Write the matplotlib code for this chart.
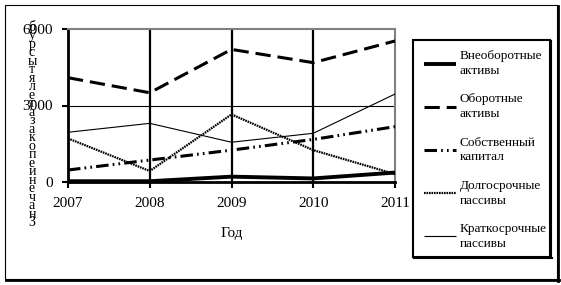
import matplotlib
matplotlib.use("Agg")
import matplotlib.pyplot as plt
from matplotlib.lines import Line2D
from matplotlib.patches import Rectangle

plt.rcParams["font.family"] = ["Liberation Serif", "DejaVu Serif"]
plt.rcParams["lines.scale_dashes"] = False

years = [2007, 2008, 2009, 2010, 2011]
vneoborotnye = [30, 30, 210, 140, 370]
oborotnye = [4090, 3500, 5200, 4680, 5530]
sobstvenny = [470, 860, 1250, 1670, 2170]
dolgosrochnye = [1710, 430, 2650, 1250, 310]
kratkosrochnye = [1950, 2300, 1560, 1910, 3450]

labels = ["Внеоборотные\nактивы", "Оборотные\nактивы", "Собственный\nкапитал",
          "Долгосрочные\nпассивы", "Краткосрочные\nпассивы"]
y_ticks = [0, 3000, 6000]
y_title = "Значениепоказателятысруб"

fig = plt.figure(figsize=(5.61, 2.85), dpi=100)
ax = fig.add_axes([68 / 561, 1 - 182 / 285, 327 / 561, 153 / 285])

series = [
    (vneoborotnye, dict(lw=2.8, ls="-")),
    (oborotnye, dict(lw=2.2, ls=(0, (11, 5)))),
    (sobstvenny, dict(lw=2.2, ls=(0, (9, 3, 1.2, 3, 1.2, 3)))),
    (dolgosrochnye, dict(lw=1.6, ls=(0, (1.2, 0.6)))),
    (kratkosrochnye, dict(lw=0.8, ls="-")),
]
handles = []
for vals, style in series:
    h, = ax.plot(years, vals, color="black", solid_capstyle="butt",
                 dash_capstyle="butt", clip_on=False, zorder=3, **style)
    handles.append(h)

ax.set_xlim(2007, 2011)
ax.set_ylim(0, 6000)
ax.set_xticks(years)
ax.set_yticks(y_ticks)
ax.tick_params(axis="both", direction="out", length=4, width=1.5,
               labelsize=11)
ax.tick_params(axis="x", pad=7)
ax.tick_params(axis="y", pad=7)

for x in years[1:-1]:
    ax.axvline(x, color="black", lw=1.6, zorder=2)
ax.axhline(3000, color="black", lw=0.8, zorder=2)

ax.spines["left"].set_linewidth(2)
ax.spines["bottom"].set_linewidth(2)
ax.spines["top"].set_color("#808080")
ax.spines["right"].set_color("#808080")
ax.spines["top"].set_linewidth(1.5)
ax.spines["right"].set_linewidth(1.5)

ax.set_xlabel("Год", fontsize=11, labelpad=12)

# vertical stacked y title
fig.text(32 / 561, 1 - 125 / 285, "\n".join(reversed(y_title)),
         ha="center", va="center", fontsize=10, linespacing=0.55)

# legend
leg = fig.legend(handles, labels, loc="upper left",
                 bbox_to_anchor=(419 / 561, 1 - 45 / 285),
                 frameon=False, fontsize=9.5, handlelength=2.4,
                 handletextpad=0.3, labelspacing=1.25, borderaxespad=0)
for t in leg.get_texts():
    t.set_linespacing(1.3)

# legend box
fig.add_artist(Rectangle((413 / 561, 1 - 257 / 285), 137 / 561, 217 / 285,
                         transform=fig.transFigure, fill=False,
                         edgecolor="black", lw=1.5))
fig.add_artist(Line2D([551 / 561, 551 / 561], [1 - 258 / 285, 1 - 41 / 285],
                      transform=fig.transFigure, color="black", lw=1.5))
fig.add_artist(Line2D([414 / 561, 552 / 561], [1 - 258 / 285, 1 - 258 / 285],
                      transform=fig.transFigure, color="black", lw=1.5))

# outer border
fig.add_artist(Rectangle((5 / 561, 1 - 279 / 285), 552 / 561, 274 / 285,
                         transform=fig.transFigure, fill=False,
                         edgecolor="black", lw=0.8))
fig.add_artist(Line2D([558 / 561, 558 / 561], [1 - 281 / 285, 1 - 6 / 285],
                      transform=fig.transFigure, color="black", lw=2))
fig.add_artist(Line2D([6 / 561, 559 / 561], [1 - 280 / 285, 1 - 280 / 285],
                      transform=fig.transFigure, color="black", lw=2))

fig.savefig("out.png", dpi=100)
